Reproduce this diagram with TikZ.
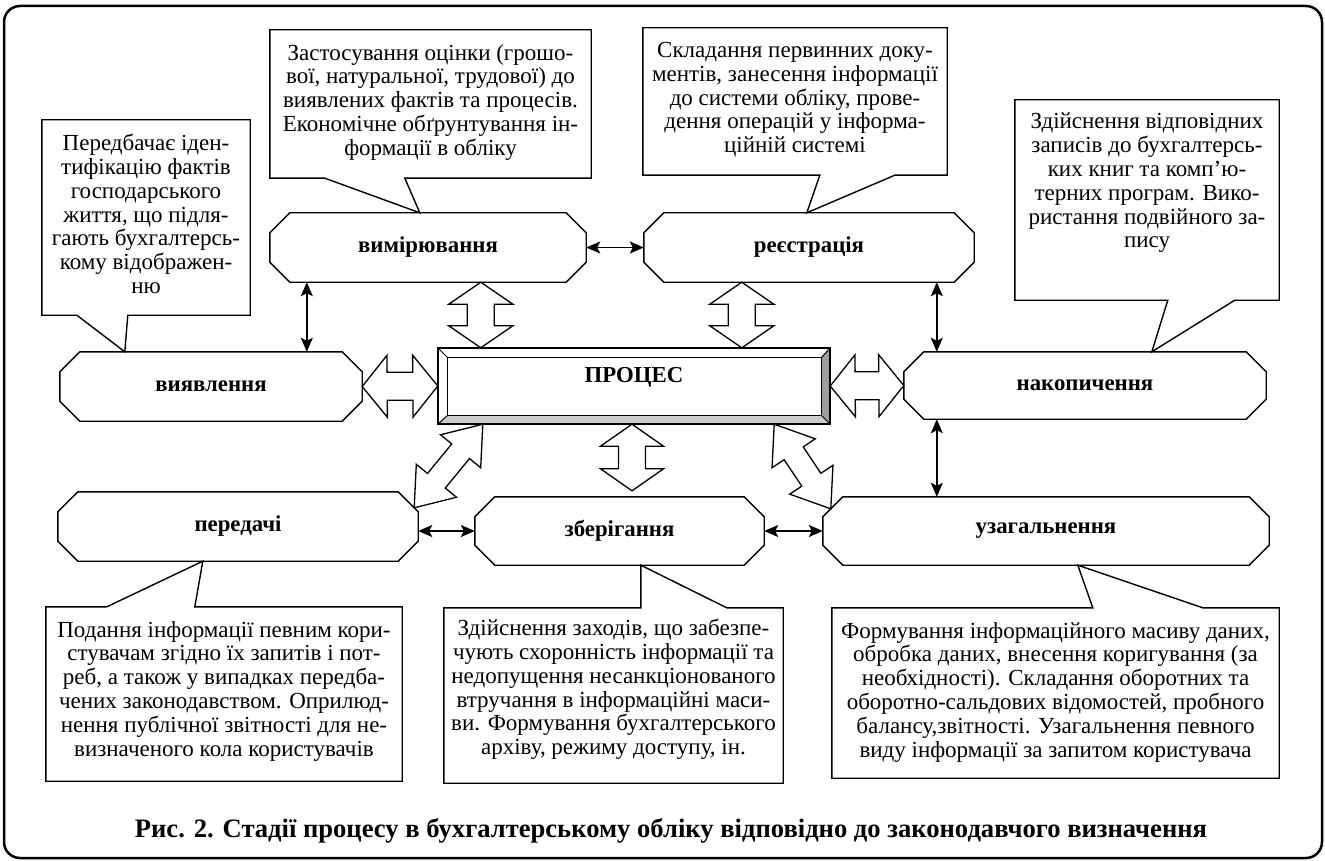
\documentclass[tikz,border=0pt]{standalone}
\usepackage{fontspec}
\setmainfont{Liberation Serif}
\usetikzlibrary{calc,arrows.meta}
\newcommand{\octo}[1]{\draw[oct] ([xshift=20pt]#1.north west) -- ([xshift=-20pt]#1.north east) -- ([yshift=-20pt]#1.north east) -- ([yshift=20pt]#1.south east) -- ([xshift=-20pt]#1.south east) -- ([xshift=20pt]#1.south west) -- ([yshift=20pt]#1.south west) -- ([yshift=-20pt]#1.north west) -- cycle;}
\newcommand{\barrow}[6]{%
 \coordinate (#1P) at ($(#2)!#6!(#3)$);
 \coordinate (#1Q) at ($(#3)!#6!(#2)$);
 \draw[blk] (#2) -- ($(#1P)!#5!-90:(#3)$) -- ($(#1P)!#4!-90:(#3)$) -- ($(#1Q)!#4!90:(#2)$) -- ($(#1Q)!#5!90:(#2)$) -- (#3) -- ($(#1Q)!#5!-90:(#2)$) -- ($(#1Q)!#4!-90:(#2)$) -- ($(#1P)!#4!90:(#3)$) -- ($(#1P)!#5!90:(#3)$) -- cycle;}
\begin{document}
\begin{tikzpicture}[x=1pt,y=-1pt,
  frame/.style={line width=2.5pt, rounded corners=16pt},
  box/.style={draw=none, inner sep=0pt},
  txt/.style={font=\fontsize{23}{23.8}\selectfont, align=center, inner sep=0pt, anchor=north},
  stage/.style={draw=none, inner sep=0pt, minimum height=69pt, font=\fontsize{22.8}{25}\selectfont\bfseries},
  co/.style={line width=1.4pt, line join=miter},
  oct/.style={line width=1.4pt, line join=miter},
  dbl/.style={line width=1.4pt, {Stealth[length=14pt,width=12pt,inset=3pt]}-{Stealth[length=14pt,width=12pt,inset=3pt]}},
  blk/.style={draw, line width=1.3pt, fill=white, line join=miter}]
\useasboundingbox (0,0) rectangle (1325,861);
\draw[frame] (4,6) rectangle (1322,858);

% stage nodes
\node[stage, minimum width=316pt] (vym) at (428,247.5) {вимірювання};
\node[stage, minimum width=330pt] (reye) at (809,247.5) {реєстрація};
\node[stage, minimum width=302pt] (vyyav) at (211,386.5) {виявлення};
\node[stage, minimum width=362pt, minimum height=67pt] (nakop) at (1085,385.5) {накопичення};
\node[stage, minimum width=360pt] (pered) at (238,526.5) {передачі};
\node[stage, minimum width=289pt, minimum height=68pt] (zber) at (619.5,531) {зберігання};
\node[stage, minimum width=446pt, minimum height=68pt] (uzag) at (1046,531) {узагальнення};
\octo{vym}\octo{reye}\octo{vyyav}\octo{nakop}\octo{pered}\octo{zber}\octo{uzag}

% central process box
\node[box, minimum width=392pt, minimum height=76pt] (pr) at (634,386) {};
\coordinate (i1) at ([shift={(10pt,-10pt)}]pr.north west);
\coordinate (i2) at ([shift={(-9pt,-10pt)}]pr.north east);
\coordinate (i3) at ([shift={(-9pt,9pt)}]pr.south east);
\coordinate (i4) at ([shift={(10pt,9pt)}]pr.south west);
\fill[white] (pr.north west) -- (pr.north east) -- (i2) -- (i1) -- cycle;
\fill[white] (pr.north west) -- (pr.south west) -- (i4) -- (i1) -- cycle;
\fill[black!38] (pr.north east) -- (pr.south east) -- (i3) -- (i2) -- cycle;
\fill[black!20] (pr.south west) -- (pr.south east) -- (i3) -- (i4) -- cycle;
\draw[line width=1pt] (i1) rectangle (i3);
\draw[line width=1pt] (pr.north west) -- (i1) (pr.north east) -- (i2) (pr.south east) -- (i3) (pr.south west) -- (i4);
\draw[line width=2.2pt] (pr.north west) rectangle (pr.south east);
\node[font=\fontsize{22.8}{25}\selectfont\bfseries, inner sep=0pt] (prl) at (634,377) {ПРОЦЕС};

% block double arrows
\coordinate (a1) at ([xshift=211pt]vym.south west);
\coordinate (b1) at ([xshift=43pt]pr.north west);
\coordinate (a2) at ([xshift=98pt]reye.south west);
\coordinate (b2) at ([xshift=304pt]pr.north west);
\coordinate (a5) at ([xshift=-2pt]pr.south);
\coordinate (b5) at ([shift={(12.5pt,6pt)}]zber.north);
\coordinate (a6) at ([xshift=45pt]pr.south west);
\coordinate (b6) at ([shift={(-4pt,-16pt)}]pered.north east);
\coordinate (a7) at ([xshift=-56pt]pr.south east);
\coordinate (b7) at ([shift={(8pt,-12pt)}]uzag.north west);
\barrow{u1}{a1}{b1}{13.5pt}{32pt}{22pt}
\barrow{u2}{a2}{b2}{13.5pt}{32pt}{22pt}
\barrow{u3}{vyyav.east}{pr.west}{14pt}{31pt}{25pt}
\barrow{u4}{pr.east}{nakop.west}{14pt}{31pt}{25pt}
\barrow{u5}{a5}{b5}{13.5pt}{31.5pt}{22pt}
\barrow{u6}{a6}{b6}{11.5pt}{26pt}{35pt}
\barrow{u7}{a7}{b7}{11.5pt}{26pt}{35pt}

% thin double arrows
\draw[dbl] ([xshift=37pt]vym.south west) -- ([xshift=247pt]vyyav.north west);
\draw[dbl] (vym.east) -- (reye.west);
\draw[dbl] ([xshift=293pt]reye.south west) -- ([xshift=33pt]nakop.north west);
\draw[dbl] ([xshift=33pt]nakop.south west) -- ([xshift=114pt]uzag.north west);
\draw[dbl] (zber.west -| pered.east) -- (zber.west);
\draw[dbl] (zber.east) -- (uzag.west);

% callouts
\node[box, minimum width=208pt, minimum height=195pt] (c1) at (146,217.5) {};
\coordinate (p1) at ([xshift=65pt]vyyav.north west);
\draw[co] (c1.south west) -- (c1.north west) -- (c1.north east) -- (c1.south east) -- ([xshift=86pt]c1.south west) -- (p1) -- ([xshift=35pt]c1.south west) -- cycle;
\node[txt] (t1) at (146,134) {Передбачає іден-\\тифікацію фактів\\господарського\\життя, що підля-\\гають бухгалтерсь-\\кому відображен-\\ню};

\node[box, minimum width=321pt, minimum height=148pt] (c2) at (430.5,104) {};
\coordinate (p2) at ([xshift=150pt]vym.north west);
\draw[co] (c2.south west) -- (c2.north west) -- (c2.north east) -- (c2.south east) -- ([xshift=135pt]c2.south west) -- (p2) -- ([xshift=55pt]c2.south west) -- cycle;
\node[txt] (t2) at (430.5,44) {Застосування оцінки (грошо-\\вої, натуральної, трудової) до\\виявлених фактів та процесів.\\Економічне обґрунтування ін-\\формації в обліку};

\node[box, minimum width=304pt, minimum height=147pt] (c3) at (795,101.5) {};
\coordinate (p3) at ([xshift=163pt]reye.north west);
\draw[co] (c3.south west) -- (c3.north west) -- (c3.north east) -- (c3.south east) -- ([xshift=252pt]c3.south west) -- (p3) -- ([xshift=177pt]c3.south west) -- cycle;
\node[txt] (t3) at (795,42) {Складання первинних доку-\\ментів, занесення інформації\\до системи обліку, прове-\\дення операцій у інформа-\\ційній системі};

\node[box, minimum width=264pt, minimum height=200pt] (c4) at (1147,200) {};
\coordinate (p4) at ([xshift=248pt]nakop.north west);
\draw[co] (c4.south west) -- (c4.north west) -- (c4.north east) -- (c4.south east) -- ([xshift=220pt]c4.south west) -- (p4) -- ([xshift=153pt]c4.south west) -- cycle;
\node[txt] (t4) at (1147,113) {Здійснення відповідних\\записів до бухгалтерсь-\\ких книг та комп’ю-\\терних програм. Вико-\\ристання подвійного за-\\пису};

\node[box, minimum width=356pt, minimum height=174pt] (c5) at (224,694) {};
\coordinate (p5) at ([xshift=145pt]pered.south west);
\draw[co] (c5.north west) -- ([xshift=61pt]c5.north west) -- (p5) -- ([xshift=149pt]c5.north west) -- (c5.north east) -- (c5.south east) -- (c5.south west) -- cycle;
\node[txt] (t5) at (224,621) {Подання інформації певним кори-\\стувачам згідно їх запитів і пот-\\реб, а також у випадках передба-\\чених законодавством. Оприлюд-\\нення публічної звітності для не-\\визначеного кола користувачів};

\node[box, minimum width=339pt, minimum height=175pt] (c6) at (613.5,695.5) {};
\coordinate (p6) at ([xshift=166pt]zber.south west);
\draw[co] (c6.north west) -- ([xshift=197pt]c6.north west) -- (p6) -- ([xshift=283pt]c6.north west) -- (c6.north east) -- (c6.south east) -- (c6.south west) -- cycle;
\node[txt] (t6) at (613.5,619) {Здійснення заходів, що забезпе-\\чують схоронність інформації та\\недопущення несанкціонованого\\втручання в інформаційні маси-\\ви. Формування бухгалтерського\\архіву, режиму доступу, ін.};

\node[box, minimum width=447pt, minimum height=170pt] (c7) at (1055.5,693) {};
\coordinate (p7) at ([xshift=255pt]uzag.south west);
\draw[co] (c7.north west) -- ([xshift=261pt]c7.north west) -- (p7) -- ([xshift=371pt]c7.north west) -- (c7.north east) -- (c7.south east) -- (c7.south west) -- cycle;
\node[txt] (t7) at (1055.5,622) {Формування інформаційного масиву даних,\\обробка даних, внесення коригування (за\\необхідності). Складання оборотних та\\оборотно-сальдових відомостей, пробного\\балансу,звітності. Узагальнення певного\\виду інформації за запитом користувача};

% caption
\node[font=\fontsize{26.6}{29}\selectfont\bfseries, inner sep=0pt, anchor=base] (cap) at (671,837) {Рис. 2. Стадії процесу в бухгалтерському обліку відповідно до законодавчого визначення};
\end{tikzpicture}
\end{document}
